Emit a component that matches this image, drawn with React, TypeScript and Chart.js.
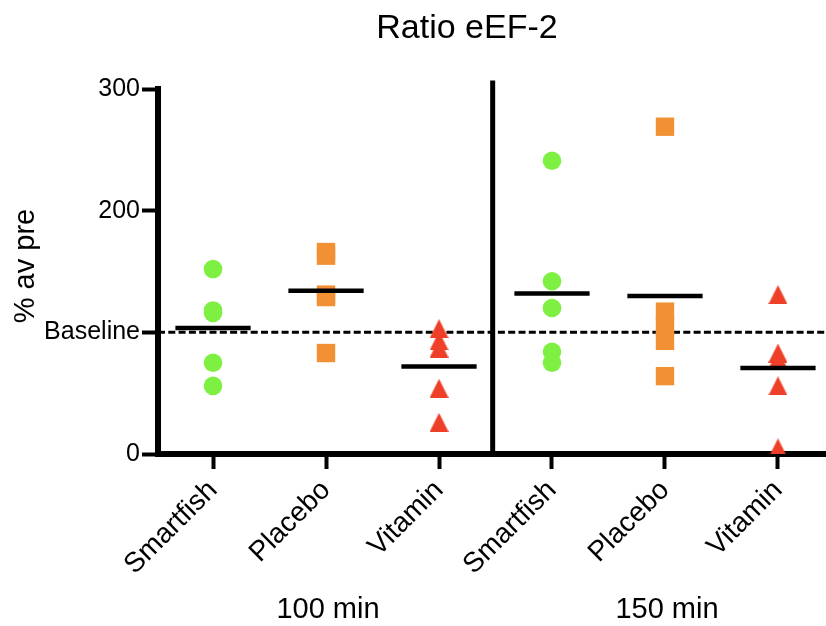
import React, { useEffect, useRef } from 'react';
import { Chart, registerables } from 'chart.js';

Chart.register(...registerables);

// ---- data ----
const categories = ['Smartfish', 'Placebo', 'Vitamin', 'Smartfish', 'Placebo', 'Vitamin'];
const groupLabels = ['100 min', '150 min'];
const groupCenters = [1, 4];
const chartTitle = 'Ratio eEF-2';
const yTitle = '% av pre';
const yTicks = [0, 100, 200, 300];
const baselineValue = 100;
const baselineLabel = 'Baseline';

const smartfish100 = [152, 118, 116, 75, 56];
const placebo100 = [166, 163, 131, 129, 83];
const vitamin100 = [103, 93, 87, 54, 26];
const smartfish150 = [241, 142, 120, 84, 75];
const placebo150 = [269, 117, 105, 93, 64];
const vitamin150 = [131, 83, 78, 56, 5];
const means = [103.6, 134.2, 72, 132, 129.9, 70.7];

const seriesValues = [smartfish100, placebo100, vitamin100, smartfish150, placebo150, vitamin150];
const seriesKinds = ['fish', 'placebo', 'vitamin', 'fish', 'placebo', 'vitamin'];

const GREEN = 'rgb(126,240,66)';
const ORANGE = 'rgb(242,145,52)';
const RED = 'rgb(238,64,40)';
const FONT = '"Liberation Sans", Arial, Helvetica, sans-serif';

const X_MIN = -0.487;
const X_MAX = 5.425;
const SEPARATOR_X = 2.475;
const SEPARATOR_TOP = 307;

function makeTriangle(color: string, w: number, h: number) {
  const c = document.createElement('canvas');
  c.width = w;
  c.height = h;
  const g = c.getContext('2d');
  if (g) {
    g.fillStyle = color;
    g.beginPath();
    g.moveTo(w / 2, 0);
    g.lineTo(w, h);
    g.lineTo(0, h);
    g.closePath();
    g.fill();
  }
  return c;
}

export default function App() {
  const ref = useRef<HTMLCanvasElement | null>(null);

  useEffect(() => {
    if (!ref.current) return;
    const tri = makeTriangle(RED, 19, 19);

    const pointSets = seriesValues.map((vals, i) => {
      const kind = seriesKinds[i];
      const color = kind === 'fish' ? GREEN : kind === 'placebo' ? ORANGE : RED;
      return {
        type: 'scatter' as const,
        data: vals.map((v) => ({ x: i, y: v })),
        pointStyle: kind === 'fish' ? 'circle' : kind === 'placebo' ? 'rect' : tri,
        pointRadius: kind === 'fish' ? 9.3 : kind === 'placebo' ? 13 : 9,
        pointBackgroundColor: color,
        pointBorderWidth: 0,
        pointBorderColor: color,
        showLine: false,
        order: 1,
      };
    });

    const meanData: any[] = [];
    means.forEach((m, i) => {
      meanData.push({ x: i - 0.333, y: m });
      meanData.push({ x: i + 0.333, y: m });
      meanData.push({ x: i + 0.5, y: null });
    });

    const chart = new Chart(ref.current, {
      type: 'scatter',
      data: {
        datasets: [
          {
            type: 'scatter',
            data: meanData,
            showLine: true,
            spanGaps: false,
            borderColor: '#000',
            borderWidth: 4.5,
            borderCapStyle: 'butt',
            pointRadius: 0,
            order: 0,
          } as any,
          ...(pointSets as any[]),
          {
            type: 'scatter',
            data: [
              { x: X_MIN, y: baselineValue },
              { x: X_MAX, y: baselineValue },
            ],
            showLine: true,
            borderColor: '#000',
            borderWidth: 3,
            borderDash: [7, 3.3],
            borderCapStyle: 'butt',
            pointRadius: 0,
            order: 2,
          } as any,
          {
            type: 'scatter',
            data: [
              { x: SEPARATOR_X, y: 0 },
              { x: SEPARATOR_X, y: SEPARATOR_TOP },
            ],
            showLine: true,
            borderColor: '#000',
            borderWidth: 5,
            borderCapStyle: 'butt',
            pointRadius: 0,
            clip: false,
            order: 3,
          } as any,
        ],
      },
      options: {
        animation: false,
        responsive: false,
        events: [],
        layout: { autoPadding: false, padding: { top: 89, left: 0, right: 0, bottom: 0 } },
        plugins: {
          legend: { display: false },
          tooltip: { enabled: false },
          title: { display: false },
        },
        scales: {
          x: {
            type: 'linear',
            position: 'bottom',
            min: X_MIN,
            max: X_MAX,
            z: 1,
            afterBuildTicks: (s: any) => {
              s.ticks = categories.map((_, i) => ({ value: i }));
            },
            afterFit: (s: any) => {
              s.height = 172;
              s.paddingRight = 0;
              s.paddingLeft = 0;
            },
            ticks: {
              autoSkip: false,
              maxRotation: 45,
              minRotation: 45,
              color: '#000',
              padding: 5,
              font: { size: 28, family: FONT },
              callback: (v: any) => categories[Math.round(Number(v))],
            },
            grid: {
              drawOnChartArea: false,
              drawTicks: true,
              tickLength: 15,
              tickWidth: 4,
              tickColor: '#000',
            },
            border: { display: true, color: '#000', width: 6 },
          },
          y: {
            type: 'linear',
            min: 0,
            max: 300,
            afterBuildTicks: (s: any) => {
              s.ticks = yTicks.map((v) => ({ value: v }));
            },
            afterFit: (s: any) => {
              s.width = 158;
              s.paddingTop = 0;
              s.paddingBottom = 0;
            },
            ticks: {
              color: '#000',
              padding: 2,
              font: { size: 25, family: FONT },
              callback: (v: any) => (Number(v) === baselineValue ? baselineLabel : String(v)),
            },
            grid: {
              drawOnChartArea: false,
              drawTicks: true,
              tickLength: 16,
              tickWidth: 4,
              tickColor: '#000',
            },
            border: { display: true, color: '#000', width: 6 },
            title: { display: false },
          },
        },
      },
      plugins: [
        {
          id: 'extraText',
          afterDraw(c: any) {
            const ctx = c.ctx;
            const xs = c.scales.x;
            ctx.save();
            ctx.fillStyle = '#000';
            ctx.textAlign = 'center';
            ctx.textBaseline = 'middle';
            ctx.font = `34px ${FONT}`;
            ctx.fillText(chartTitle, 467, 29);
            ctx.font = `29px ${FONT}`;
            groupLabels.forEach((g, i) => {
              ctx.fillText(g, xs.getPixelForValue(groupCenters[i]) + 2, 610);
            });
            ctx.save();
            ctx.translate(26, 266);
            ctx.rotate(-Math.PI / 2);
            ctx.font = `29px ${FONT}`;
            ctx.fillText(yTitle, 0, 0);
            ctx.restore();
            ctx.restore();
          },
        },
      ],
    } as any);

    return () => chart.destroy();
  }, []);

  return (
    <div style={{ position: 'absolute', left: 0, top: 0, width: 826, height: 626, background: '#fff' }}>
      <canvas ref={ref} width={826} height={626} style={{ display: 'block', width: 826, height: 626 }} />
    </div>
  );
}
